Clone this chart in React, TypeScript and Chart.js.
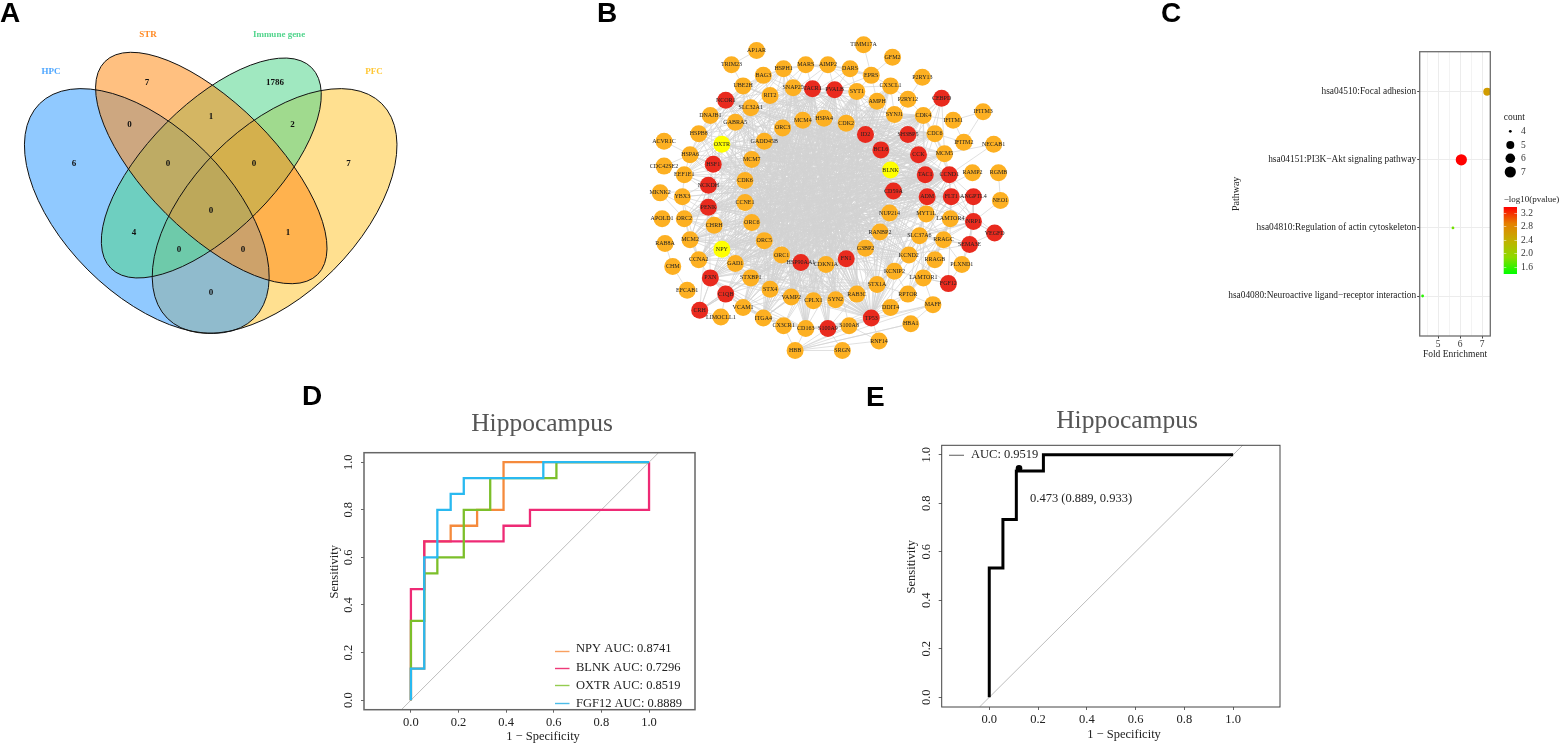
import React, { useEffect, useRef } from "react";
import { Chart, registerables } from "chart.js";
Chart.register(...registerables);

const SERIF = '"Liberation Serif", "Times New Roman", serif';
const LETTER = 'bold 28px "Liberation Sans", Arial, sans-serif';

// ---------- Panel A data ----------
const vennSets = ["HPC", "STR", "Immune gene", "PFC"];
const vennSetX = [51, 148, 279, 374];
const vennSetY = [72, 35, 35, 72];
const vennSetColors = ["#4DA6FF", "#FF8A24", "#52D58D", "#FFC735"];
const vennCounts = [6, 7, 1786, 7, 0, 1, 2, 0, 0, 4, 0, 1, 0, 0, 0];
const vennCountX = [74, 147, 275, 348.5, 129.5, 211, 292.5, 168, 254, 134, 211, 288, 179, 243, 211];
const vennCountY = [164, 83, 83, 164, 125, 117, 125, 164, 164, 233, 211, 233, 250, 250, 293];

// ---------- Panel B data ----------
const nodeNames = [
  "AP1AR","TRIM23","BAG3","HSPH1","UBE2H","SNAP25","RIT2","NCOR1","SLC32A1","DNAJB1",
  "GABRA5","ORC3","HSPB8","GADD45B","OXTR","ACVR1C","HSPA6","MCM7","HSF1","CDC42SE2",
  "EEF1E1","CDK6","NCKDH","MKNK2","YBX3","PENK","CCNE1","APOLD1","ORC2","CHRH",
  "ORC6","RAB8A","MCM2","ORC5","NPY","CCNA2","ORC1","HSP90AA1","CDKN1A","GAD1",
  "CHM","PXN","STXBP1","STX4","VAMP2","CPLX1","SYN2","EFCAB1","C1QB","VCAM1",
  "ITGA4","LIMOCLL1","CRH","CX3CR1","CD163","S100A9","HBB","SRGN","CD59A","ADM",
  "FLT1","ANGPTL4","NEO1","NUP214","MYT1L","LAMTOR4","NRP1","VEGFD","RANBP2","SLC37A6",
  "RRAGC","SEMA3E","G3BP2","KCND2","RRAGB","PLXND1","FN1","KCNIP2","LAMTOR1","FGF12",
  "STX1A","RAB3C","RPTOR","MAFF","DDIT4","TP53","HBA1","S100A8","RNF14","TIMM17A",
  "GFM2","MARS","AIMP2","DARS","EPRS","P2RY13","CX3CL1","TACR1","PVALB","SYT1",
  "AMPH","P2RY12","CEBPD","IFITM3","MCM4","HSPA4","CDK2","SYNJ1","CDK4","IFITM1",
  "ID2","SH3BP5","CDC6","BCL6","IFITM2","NECAB1","CCK","MCM5","BLNK","TAC1",
  "CCND1","RAMP2","RGMB",
];
const nodeX = [
  754,728,761,782,740,792,768,722,748,706,
  732,781,694,762,718,658,685,749,709,658,
  679,742,704,654,677,704,742,656,679,710,
  749,659,685,762,718,694,780,800,826,732,
  667,706,748,768,790,813,836,682,722,740,
  761,717,695,782,805,828,794,843,896,931,
  956,979,1007,892,930,955,979,1001,882,923,
  948,975,867,912,939,967,847,897,927,953,
  879,858,911,937,893,873,914,850,881,865,
  895,805,828,851,873,926,893,812,835,858,
  879,911,946,989,802,824,847,897,927,958,
  867,911,939,883,969,1000,922,949,893,929,
  954,978,1005,
];
const nodeY = [
  44,59,70,63,81,83,91,96,104,112,
  119,125,131,139,142,139,153,158,163,165,
  174,180,185,193,197,208,203,220,220,227,
  224,246,242,243,252,263,258,266,268,267,
  270,282,282,294,302,306,305,295,299,313,
  324,323,316,332,335,335,358,358,191,197,
  197,197,201,214,215,220,223,235,234,238,
  242,247,251,258,263,268,262,275,282,288,
  289,299,299,310,313,324,330,332,348,38,
  51,59,59,63,70,72,81,84,85,87,
  97,95,94,108,117,115,120,111,112,117,
  132,132,131,148,140,142,153,152,169,174,
  174,172,172,
];
const redNodes = ["NCOR1","HSF1","NCKDH","PENK","HSP90AA1","PXN","C1QB","CRH","S100A9","CD59A","ADM","FLT1","ANGPTL4","NRP1","VEGFD","SEMA3E","FN1","FGF12","TP53","TACR1","PVALB","CEBPD","ID2","SH3BP5","BCL6","CCK","TAC1","CCND1"];
const yellowNodes = ["OXTR","NPY","BLNK"];
const edgeLists: [string, string][] = [
  ["AP1AR","TRIM23"],["TRIM23","UBE2H"],
  ["HSPH1","BAG3 UBE2H HSPA4 HSPA6 DNAJB1 HSPB8 HSF1 EEF1E1 HSP90AA1 MARS AIMP2 CDK2 TP53 ORC3"],
  ["BAG3","UBE2H HSPA4 HSPA6 DNAJB1 HSPB8 HSF1 RIT2 SNAP25"],
  ["UBE2H","HSPA6 DNAJB1 HSPB8 HSPA4 TP53 EEF1E1 MCM7 CDK2 CCND1 SLC32A1 CDK6"],
  ["DNAJB1","HSPA6 HSPB8 HSPA4 HSF1 GABRA5 TP53 HSP90AA1 SLC32A1"],
  ["HSPA6","HSPB8 ACVR1C CDC42SE2 EEF1E1 HSF1 HSPA4 CDK6 MCM7 SNAP25"],
  ["HSPB8","HSF1 HSPA4 GABRA5 TP53 OXTR BLNK"],
  ["EEF1E1","CDK6 NCKDH HSPA4 AIMP2 DARS MARS YBX3 CDC6"],
  ["MARS","AIMP2 DARS EPRS TACR1 SNAP25"],["AIMP2","DARS EPRS PVALB TACR1 SYT1"],["DARS","EPRS SYT1 PVALB"],
  ["EPRS","TIMM17A GFM2 SYT1 AMPH CX3CL1 PVALB"],
  ["P2RY13","P2RY12"],["P2RY12","CX3CL1 CX3CR1 SYNJ1 CDK4"],
  ["CX3CL1","CX3CR1 AMPH SYNJ1 VCAM1 ITGA4 CDK2 FN1 TACR1 HSP90AA1 CDKN1A CPLX1 STX4 PENK NPY GAD1"],
  ["IFITM3","IFITM1 IFITM2"],["IFITM1","IFITM2 CDK4"],["IFITM2","CDC6"],["NECAB1","MCM5 CCND1"],
  ["CEBPD","MCM5 CDK4 CDC6 TP53 BCL6"],
  ["MKNK2","ORC2 CCND1 HSP90AA1"],["YBX3","ORC2 CCNA2 TP53 CCND1 HSPA4"],
  ["CHM","RAB8A EFCAB1"],["CRH","LIMOCLL1 C1QB CCK NPY TAC1"],["C1QB","PXN VCAM1 ITGA4 CD163 FN1 LIMOCLL1"],
  ["RGMB","NEO1"],["NEO1","NRP1"],["VEGFD","NRP1 SEMA3E FLT1 ADM"],
  ["RAMP2","ADM"],["HBA1","HBB"],
  ["PLXND1","SEMA3E NRP1 RRAGC"],["ANGPTL4","FLT1 NRP1 ADM SEMA3E TP53 CCND1"],["SEMA3E","NRP1 KCND2 SLC37A6 RANBP2 NUP214"],
  ["LAMTOR1","LAMTOR4 RRAGB RRAGC RPTOR SLC37A6 MAFF FGF12 CDK4 DDIT4"],["LAMTOR4","RRAGB RRAGC RPTOR SLC37A6 CCND1 FLT1 NRP1"],
  ["RRAGC","RRAGB RPTOR SLC37A6 KCND2 MYT1L"],["RRAGB","RPTOR SLC37A6"],["RPTOR","DDIT4 SLC37A6 KCNIP2 STX1A"],["MAFF","HBA1 RPTOR"],
  ["FGF12","KCND2 KCNIP2 PLXND1"],["KCND2","KCNIP2 SNAP25 SLC37A6 MYT1L STX1A ORC5 ORC6 CCNE1 MCM7 GADD45B MCM4 HSPA4 CDK2 HSF1 OXTR GABRA5 PENK"],["S100A8","S100A9 CD163 HBB RNF14 MAFF"],["S100A9","CD163 HBB SRGN RAB3C CX3CR1 DDIT4 RPTOR RIT2 ORC3 GADD45B HSPA4 MCM4 CDK2"],["HBB","CD163 CX3CR1 SRGN TP53 HBA1 MAFF RNF14"],
  ["ITGA4","VCAM1 PXN CX3CR1 CD163 STX4 FN1 VAMP2 RIT2 ORC3 MCM4 HSPA4 CDK2 SYNJ1 CDK4"],["VCAM1","STX4 CX3CR1 PXN STXBP1 CD163 VAMP2 HSPA4 CDK2 MCM4 ORC3 SH3BP5 CDK4 BCL6"],
  ["TP53","CDKN1A CCND1 CCNE1 CCNA2 CDK2 CDK4 CDK6 BCL6 HSF1 MCM4 MCM7 MCM2 MCM5 FN1 NCOR1 PXN HSPA4 RAB3C STX1A KCNIP2 DDIT4 S100A8 S100A9 RNF14 CD163 G3BP2 RANBP2 NUP214 ORC1 ORC5 ORC6 ADM FLT1 TAC1 CCK PENK NPY SNAP25 GADD45B MAFF HSP90AA1 CDC6 ORC2 ORC3 CD59A SYN2 CPLX1"],
  ["HSP90AA1","HSPA4 HSPA6 HSPB8 DNAJB1 HSF1 CDK4 CDK2 CDK6 CDKN1A FN1 BCL6 NCOR1 TACR1 CCND1 FLT1 NUP214 RANBP2 MCM7 EEF1E1 STX4 VAMP2 TAC1 SYT1 GABRA5 PXN KCND2"],
  ["FN1","PXN ITGA4 VCAM1 NRP1 FLT1 ANGPTL4 CD163 CCND1 BCL6 TACR1 PVALB SYT1 ORC3 HSF1 SNAP25 NCOR1 CD59A CCK MCM7 HSPB8 ADM RIT2 MCM4 HSPA4 AMPH GADD45B"],
  ["SNAP25","SYT1 STX1A STX4 STXBP1 VAMP2 CPLX1 SYN2 SYNJ1 AMPH RAB3C RIT2 GAD1 SLC32A1 PVALB GABRA5 NPY CCK TAC1 TACR1 PENK KCNIP2 OXTR BLNK CHRH MYT1L ORC5 ORC6 NCKDH ITGA4 CD163 S100A9 S100A8"],
  ["SYT1","STX1A STX4 STXBP1 VAMP2 CPLX1 SYN2 SYNJ1 AMPH RAB3C RIT2 GAD1 SLC32A1 PVALB KCNIP2 CCK NPY MYT1L ITGA4 VCAM1 CD163 PXN C1QB"],
  ["STX1A","STXBP1 VAMP2 CPLX1 SYN2 STX4 RAB3C AMPH GAD1 SLC32A1 RIT2 GABRA5 KCND2 MCM7 ORC3 MCM4 HSPA4"],
  ["STXBP1","VAMP2 CPLX1 SYN2 STX4 RAB3C GAD1 SLC32A1 KCND2 AMPH MCM4 HSPA4 TAC1 CD59A BLNK"],
  ["VAMP2","CPLX1 SYN2 STX4 RAB3C SYNJ1 AMPH HSPA4 MCM4 ORC3 ID2 TACR1 PVALB"],["SYN2","CPLX1 RAB3C SYNJ1 GAD1 PVALB RIT2 HSPA4 MCM4 ORC3 TACR1"],
  ["GAD1","SLC32A1 GABRA5 PVALB NPY CCK TAC1 PENK KCNIP2 CHRH ORC5 STX4 RIT2 SYNJ1 AMPH HSPA4 CD59A BLNK ID2 ADM MYT1L CCND1 TACR1"],
  ["PVALB","SLC32A1 GABRA5 NPY CCK TAC1 TACR1 PENK OXTR KCNIP2 KCND2 CHRH BCL6 CCND1 BLNK CPLX1 STX4 ITGA4 PXN C1QB CD163 S100A9 RAB3C ORC5 ORC1"],
  ["SLC32A1","GABRA5 NPY CCK TAC1 PENK KCNIP2 OXTR RAB3C CD163 STX4 CD59A FLT1"],
  ["NPY","CCK TAC1 TACR1 PENK OXTR CRH ADM GABRA5 CDK2 BCL6 ID2 CHRH FLT1 MYT1L KCND2 CCND1 CD59A SYNJ1 SH3BP5 BLNK"],
  ["CCK","TAC1 TACR1 PENK OXTR CHRH GABRA5 CRH RANBP2 ORC6 CCNE1 ORC5 MCM7 GADD45B CDK6"],
  ["TAC1","TACR1 PENK OXTR CHRH CRH NCOR1 ORC3 MCM2 RAB3C STX4 CCNE1 CDK6 MCM7 ORC1 ORC5 ORC6 GAD1 STXBP1 PXN"],
  ["TACR1","PENK OXTR BLNK CHRH CCNA2 ORC1 ORC6 FLT1 FN1 CPLX1 VAMP2 STX4 STXBP1 ITGA4 VCAM1 PXN C1QB CD163 RAB3C SYN2"],
  ["PENK","OXTR CHRH ORC2 CRH CDK4 MCM4 KCND2 RANBP2 SLC37A6 MYT1L ADM FLT1 SH3BP5 BLNK"],
  ["OXTR","BLNK CDK6 MCM2 CCND1 CDK4 CD59A ORC1 FN1 SYN2 ADM NRP1 CPLX1 FLT1"],
  ["CCND1","CDK4 CDK6 CDK2 CDKN1A CCNE1 CCNA2 BCL6 MCM2 MCM4 MCM5 MCM7 CDC6 ORC1 ORC2 ORC3 ORC5 ORC6 FLT1 ADM NCOR1 HSF1 NRP1 KCNIP2 PXN ITGA4 RPTOR RANBP2 HSPA4 GADD45B YBX3 EEF1E1 CHRH NPY PENK STXBP1 C1QB"],
  ["CDK2","CDK4 CDK6 CDKN1A CCNE1 CCNA2 MCM2 MCM4 MCM5 MCM7 CDC6 ORC1 ORC2 ORC3 ORC5 ORC6 BCL6 GADD45B NCOR1 HSF1 NUP214 RANBP2 PXN G3BP2 STX4 RAB3C CD163"],
  ["CDK4","CDK6 CDKN1A CCNE1 CCNA2 MCM2 MCM4 MCM5 MCM7 CDC6 ORC1 ORC2 ORC3 ORC5 ORC6 GADD45B HSPA4 SYNJ1 MYT1L NCOR1 CX3CR1 ID2 SH3BP5 PXN FN1 STXBP1"],
  ["CDK6","CDKN1A CCNE1 CCNA2 MCM2 MCM4 MCM7 CDC6 ORC1 ORC2 ORC5 ORC6 GADD45B ID2 SH3BP5 BLNK CD59A NUP214 RANBP2 G3BP2 BCL6 MCM5 ADM SLC37A6"],
  ["CDKN1A","CCNE1 CCNA2 MCM2 MCM4 MCM5 MCM7 GADD45B BCL6 HSF1 NCOR1 ORC3 ID2 HSPA4 SH3BP5 CEBPD BLNK AMPH"],
  ["CCNE1","CCNA2 MCM2 MCM4 MCM5 MCM7 CDC6 ORC1 ORC2 ORC3 ORC5 ORC6 HSPH1 NCKDH BLNK CD59A NUP214 G3BP2 RANBP2 BCL6 ID2 FLT1 ADM SLC37A6 MYT1L"],
  ["CCNA2","MCM2 MCM4 MCM5 MCM7 CDC6 ORC1 ORC2 ORC3 ORC5 ORC6 BLNK"],
  ["MCM2","MCM4 MCM5 MCM7 CDC6 ORC1 ORC2 ORC3 ORC5 ORC6 BLNK"],
  ["MCM4","MCM5 MCM7 CDC6 ORC1 ORC2 ORC3 ORC5 ORC6 HSPA4 FN1 G3BP2 RANBP2 NUP214 CPLX1 STX4 KCNIP2 RAB3C CD163"],
  ["MCM5","MCM7 CDC6 ORC1 ORC2 ORC3 ORC5 ORC6"],
  ["MCM7","CDC6 ORC1 ORC2 ORC3 ORC5 ORC6 BLNK CD59A NUP214 RANBP2 G3BP2 BCL6 ID2 SH3BP5 KCNIP2 RAB3C CD163 SLC37A6 MYT1L"],
  ["CDC6","ORC1 ORC2 ORC3 ORC5 ORC6 NCOR1 SH3BP5"],
  ["ORC1","ORC2 ORC3 ORC5 ORC6 CD59A BLNK BCL6 ID2 HSPA4 SYNJ1 AMPH"],["ORC2","ORC3 ORC5 ORC6"],["ORC3","ORC5 ORC6 FN1 CDKN1A G3BP2 RANBP2 NUP214 VAMP2 CPLX1 SYN2 CD163 KCNIP2 RAB3C"],["ORC5","ORC6 BLNK CD59A NUP214 BCL6 ID2 HSPA4 SYT1 AMPH SNAP25 SLC37A6 MYT1L"],
  ["ORC6","BLNK CD59A NUP214 RANBP2 BCL6 ID2 SH3BP5 HSPA4 CDK2 SLC37A6 MYT1L"],
  ["BCL6","NCOR1 HSF1 ID2 SH3BP5 PXN BLNK CD59A FLT1 PENK GADD45B STX4 CPLX1"],
  ["NUP214","RANBP2 G3BP2 NCOR1 HSPA4 MCM7 ORC5 SLC37A6 CHRH GADD45B"],
  ["RANBP2","G3BP2 NCOR1 ORC1 HSPA6 GADD45B"],["G3BP2","HSPA4 EEF1E1 YBX3 NCOR1 MCM2 GADD45B"],
  ["FLT1","ADM NRP1 PXN MYT1L CD59A SLC37A6 FGF12 KCNIP2 ORC6 NCKDH HSF1 GADD45B GABRA5 SLC32A1"],["ADM","NRP1 SLC37A6 TACR1 CD59A ORC6 CHRH HSP90AA1 NCKDH HSF1 GABRA5"],["NRP1","PXN KCND2 RRAGC SLC37A6 MYT1L"],
  ["PXN","STX4 CD163 CCNA2 ITGA4 NCKDH ID2 CX3CR1 SYNJ1 SH3BP5 BLNK"],
  ["NCKDH","HSF1 CDK6 ORC2 MCM2 MYT1L SLC37A6"],["HSF1","CDK6 GADD45B NCOR1 MCM7 CCK SLC37A6 MYT1L KCNIP2"],["NCOR1","ORC3 SNAP25 SLC32A1 GADD45B"],
  ["RAB3C","STX4 CPLX1 RIT2 SLC32A1 GABRA5 GADD45B HSPA4"],["KCNIP2","RAB3C DDIT4 ORC6 HSPA4 GADD45B GABRA5 RIT2 MYT1L"],
  ["CD59A","GAD1 STXBP1 ORC6 GADD45B HSPA4 RIT2 GABRA5 MCM4 CPLX1"],
  ["BLNK","CDKN1A HSP90AA1 HSF1 NCOR1 PXN ITGA4 CRH STX4 GADD45B"],
  ["ID2","HSP90AA1 HSF1 NCOR1 GAD1 PENK STX4 ITGA4 VAMP2 CPLX1 CCNE1"],
  ["HSPA4","CDKN1A G3BP2 NUP214 CPLX1 SYN2 STX4 ORC1 ORC5"],
  ["AMPH","CPLX1 VAMP2 STX4 CDKN1A GAD1 NPY CCNA2"],
  ["SYNJ1","STX4 VAMP2 STXBP1 CHRH C1QB CCNA2"],
  ["SH3BP5","GADD45B ORC6 ORC5 MCM7 NCKDH"],
  ["SLC37A6","ORC3 CHRH GADD45B"],
  ["MYT1L","HSPA4 CHRH GADD45B MCM2"],
  ["CD163","RIT2 ORC3 GADD45B HSPA4"],
  ["STX4","RIT2 SLC32A1 GABRA5 HSPA4 MCM4 CDK2"],
];

// ---------- Panel C data ----------
const pathways = ["hsa04080:Neuroactive ligand\u2212receptor interaction","hsa04810:Regulation of actin cytoskeleton","hsa04151:PI3K\u2212Akt signaling pathway","hsa04510:Focal adhesion"];
const foldEnrichment = [4.3, 5.68, 6.06, 7.24];
const pathwayCount = [4, 4, 7, 5];
const pathwayLogP = [1.54, 1.8, 3.38, 2.6];
const countLevels = [4, 5, 6, 7];
const countRadius = [1.4, 4, 4.8, 5.6];
const logPTicks = [3.2, 2.8, 2.4, 2.0, 1.6];
const foldGrid = [4.5, 5, 5.5, 6, 6.5, 7];
const gradientStops = ["#00FF00", "#8DDA00", "#C2B000", "#E58000", "#FF0000"];

// ---------- Panels D / E data ----------
const rocTicks = [0, 0.2, 0.4, 0.6, 0.8, 1];
const npyFpr = [0, 0, 0.056, 0.056, 0.167, 0.167, 0.278, 0.278, 0.389, 0.389, 1];
const npyTpr = [0, 0.133, 0.133, 0.667, 0.667, 0.733, 0.733, 0.8, 0.8, 1, 1];
const blnkFpr = [0, 0, 0.056, 0.056, 0.389, 0.389, 0.5, 0.5, 1, 1];
const blnkTpr = [0, 0.467, 0.467, 0.667, 0.667, 0.733, 0.733, 0.8, 0.8, 1];
const oxtrFpr = [0, 0, 0.056, 0.056, 0.111, 0.111, 0.222, 0.222, 0.333, 0.333, 0.611, 0.611, 1];
const oxtrTpr = [0, 0.333, 0.333, 0.533, 0.533, 0.6, 0.6, 0.8, 0.8, 0.933, 0.933, 1, 1];
const fgfFpr = [0, 0, 0.056, 0.056, 0.111, 0.111, 0.167, 0.167, 0.222, 0.222, 0.556, 0.556, 1];
const fgfTpr = [0, 0.133, 0.133, 0.6, 0.6, 0.8, 0.8, 0.867, 0.867, 0.933, 0.933, 1, 1];
const rocLegend = ["NPY AUC: 0.8741", "BLNK AUC: 0.7296", "OXTR AUC: 0.8519", "FGF12 AUC: 0.8889"];
const comboFpr = [0, 0, 0.056, 0.056, 0.111, 0.111, 0.222, 0.222, 1];
const comboTpr = [0, 0.533, 0.533, 0.733, 0.733, 0.933, 0.933, 1, 1];
const bestFpr = [0.122];
const bestTpr = [0.944];

// ---------- helpers ----------
type Box = { x: number; y: number; w: number; h: number };
type Txt = { t: string; x: number; y: number; font: string; color?: string; rot?: number; align?: CanvasTextAlign };
const zip = (xs: number[], ys: number[]) => xs.map((x, i) => ({ x, y: ys[i] }));

const textPlugin = (box: Box, items: Txt[]) => ({
  id: "pageText",
  afterDraw(chart: any) {
    const c = chart.ctx;
    items.forEach((i) => {
      c.save();
      c.translate(i.x - box.x, i.y - box.y);
      if (i.rot) c.rotate(i.rot);
      c.font = i.font;
      c.fillStyle = i.color || "#222";
      c.textAlign = i.align || "left";
      c.textBaseline = "middle";
      c.fillText(i.t, 0, 0);
      c.restore();
    });
  },
});
const framePlugin = (color: string, width: number) => ({
  id: "frame",
  afterDatasetsDraw(chart: any) {
    const { left, top, right, bottom } = chart.chartArea;
    const c = chart.ctx;
    c.save();
    c.strokeStyle = color;
    c.lineWidth = width;
    c.strokeRect(left, top, right - left, bottom - top);
    c.restore();
  },
});
const mixHex = (a: string, b: string, t: number) => {
  const p = (h: string, i: number) => parseInt(h.slice(i, i + 2), 16);
  const m = (i: number) => Math.round(p(a, i) + (p(b, i) - p(a, i)) * t);
  return `rgb(${m(1)},${m(3)},${m(5)})`;
};
const LOG_MIN = 1.4, LOG_MAX = 3.385;
const logPColor = (v: number) => {
  const t = Math.min(1, Math.max(0, (v - LOG_MIN) / (LOG_MAX - LOG_MIN))) * (gradientStops.length - 1);
  const i = Math.min(gradientStops.length - 2, Math.floor(t));
  return mixHex(gradientStops[i], gradientStops[i + 1], t - i);
};

// ---------- panel builders ----------
function buildVenn(cv: HTMLCanvasElement, box: Box) {
  const ellipses = [
    { cx: 274.6, cy: 211, a: 151.7, b: 83.3, rot: -45, col: "rgba(255,199,53,0.55)" },
    { cx: 146.8, cy: 211, a: 151.7, b: 83.3, rot: 45, col: "rgba(52,157,255,0.55)" },
    { cx: 211.3, cy: 168, a: 141.9, b: 63.7, rot: -45, col: "rgba(82,213,141,0.55)" },
    { cx: 211.3, cy: 168, a: 150.5, b: 64.3, rot: 45, col: "rgba(255,141,24,0.55)" },
  ];
  const venn = {
    id: "vennShapes",
    beforeDatasetsDraw(chart: any) {
      const c = chart.ctx, sx = chart.scales.x, sy = chart.scales.y;
      c.save();
      ellipses.forEach((e) => {
        c.beginPath();
        c.ellipse(sx.getPixelForValue(e.cx), sy.getPixelForValue(e.cy), e.a, e.b, (e.rot * Math.PI) / 180, 0, Math.PI * 2);
        c.fillStyle = e.col;
        c.fill();
      });
      ellipses.forEach((e) => {
        c.beginPath();
        c.ellipse(sx.getPixelForValue(e.cx), sy.getPixelForValue(e.cy), e.a, e.b, (e.rot * Math.PI) / 180, 0, Math.PI * 2);
        c.strokeStyle = "#111";
        c.lineWidth = 1;
        c.stroke();
      });
      c.restore();
    },
    afterDatasetsDraw(chart: any) {
      const c = chart.ctx, sx = chart.scales.x, sy = chart.scales.y;
      c.save();
      c.textAlign = "center";
      c.textBaseline = "middle";
      c.font = `bold 9px ${SERIF}`;
      c.fillStyle = "#111";
      vennCounts.forEach((n, i) => c.fillText(String(n), sx.getPixelForValue(vennCountX[i]), sy.getPixelForValue(vennCountY[i])));
      vennSets.forEach((n, i) => {
        c.fillStyle = vennSetColors[i];
        c.fillText(n, sx.getPixelForValue(vennSetX[i]), sy.getPixelForValue(vennSetY[i]));
      });
      c.restore();
    },
  };
  return new Chart(cv, {
    type: "scatter",
    data: { datasets: [{ label: "Venn regions", data: zip(vennCountX, vennCountY), pointRadius: 0 }] },
    options: {
      responsive: false,
      animation: false,
      layout: { padding: 0 },
      plugins: { legend: { display: false }, tooltip: { enabled: false } },
      scales: {
        x: { type: "linear", display: false, min: box.x, max: box.x + box.w },
        y: { type: "linear", display: false, min: box.y, max: box.y + box.h, reverse: true },
      },
    },
    plugins: [venn, textPlugin(box, [{ t: "A", x: 0, y: 14, font: LETTER, color: "#000" }])],
  } as any);
}

function buildNetwork(cv: HTMLCanvasElement, box: Box) {
  const at = new Map(nodeNames.map((n, i) => [n, i]));
  const edgePts: any[] = [];
  edgeLists.forEach(([hub, list]) => {
    const a = at.get(hub);
    list.split(" ").forEach((n) => {
      const b = at.get(n);
      if (a === undefined || b === undefined) return;
      edgePts.push({ x: nodeX[a], y: nodeY[a] }, { x: nodeX[b], y: nodeY[b] }, { x: null, y: null });
    });
  });
  const nodeColor = (n: string) => (yellowNodes.includes(n) ? "#FFFF00" : redNodes.includes(n) ? "#E92A1E" : "#FDB022");
  const labels = {
    id: "nodeLabels",
    afterDatasetsDraw(chart: any) {
      const c = chart.ctx, sx = chart.scales.x, sy = chart.scales.y;
      c.save();
      c.font = `6px ${SERIF}`;
      c.fillStyle = "#222";
      c.textAlign = "center";
      c.textBaseline = "middle";
      nodeNames.forEach((n, i) => c.fillText(n, sx.getPixelForValue(nodeX[i]), sy.getPixelForValue(nodeY[i])));
      c.restore();
    },
  };
  return new Chart(cv, {
    type: "scatter",
    data: {
      datasets: [
        { label: "genes", data: zip(nodeX, nodeY), pointRadius: 8.5, pointBorderWidth: 0, pointBackgroundColor: nodeNames.map(nodeColor), order: 1 },
        { label: "interactions", data: edgePts, showLine: true, pointRadius: 0, borderColor: "#d2d2d2", borderWidth: 0.7, spanGaps: false, order: 2 },
      ],
    },
    options: {
      responsive: false,
      animation: false,
      layout: { padding: 0 },
      plugins: { legend: { display: false }, tooltip: { enabled: false } },
      scales: {
        x: { type: "linear", display: false, min: box.x, max: box.x + box.w },
        y: { type: "linear", display: false, min: box.y, max: box.y + box.h, reverse: true },
      },
    },
    plugins: [labels, textPlugin(box, [{ t: "B", x: 597, y: 14, font: LETTER, color: "#000" }])],
  } as any);
}

function buildDot(cv: HTMLCanvasElement, box: Box) {
  const L = 1419.7, R = 1490.3, T = 51.7, B = 336;
  const yW = 200, xH = 24;
  const radiusOf = (n: number) => countRadius[countLevels.indexOf(n)];
  const legendDraw = {
    id: "dotLegend",
    afterDraw(chart: any) {
      const c = chart.ctx;
      c.save();
      const ox = box.x, oy = box.y;
      c.font = `9.5px ${SERIF}`;
      c.fillStyle = "#222";
      c.textBaseline = "middle";
      c.fillText("count", 1503.7 - ox, 117.7 - oy);
      const lvlY = [131.3, 145, 158.3, 172];
      countLevels.forEach((n, i) => {
        c.beginPath();
        c.arc(1510.3 - ox, lvlY[i] - oy, radiusOf(n), 0, Math.PI * 2);
        c.fillStyle = "#000";
        c.fill();
        c.fillStyle = "#333";
        c.fillText(String(n), 1521 - ox, lvlY[i] - oy);
      });
      c.fillStyle = "#222";
      c.font = `9px ${SERIF}`;
      c.fillText("\u2212log10(pvalue)", 1503.7 - ox, 199.3 - oy);
      c.font = `9.5px ${SERIF}`;
      const bx = 1503.7 - ox, bt = 207 - oy, bb = 274 - oy, bw = 13.3;
      const g = c.createLinearGradient(0, bb, 0, bt);
      gradientStops.forEach((s, i) => g.addColorStop(i / (gradientStops.length - 1), s));
      c.fillStyle = g;
      c.fillRect(bx, bt, bw, bb - bt);
      logPTicks.forEach((v) => {
        const y = bb - ((v - LOG_MIN) / (LOG_MAX - LOG_MIN)) * (bb - bt);
        c.fillStyle = "#fff";
        c.fillRect(bx, y - 0.25, 2.6, 0.5);
        c.fillRect(bx + bw - 2.6, y - 0.25, 2.6, 0.5);
        c.fillStyle = "#333";
        c.fillText(v.toFixed(1), 1521 - ox, y);
      });
      c.restore();
    },
  };
  return new Chart(cv, {
    type: "bubble",
    data: {
      datasets: [
        {
          label: "pathways",
          data: foldEnrichment.map((x, i) => ({ x, y: i + 1, r: radiusOf(pathwayCount[i]) })),
          backgroundColor: pathwayLogP.map(logPColor),
          borderWidth: 0,
        },
      ],
    },
    options: {
      responsive: false,
      animation: false,
      layout: { padding: { left: L - box.x - yW, top: T - box.y, right: box.x + box.w - R, bottom: box.y + box.h - B - xH } },
      plugins: { legend: { display: false }, tooltip: { enabled: false } },
      scales: {
        x: {
          type: "linear",
          min: 4.168,
          max: 7.377,
          afterBuildTicks: (s: any) => { s.ticks = foldGrid.map((value) => ({ value })); },
          afterFit: (s: any) => { s.height = xH; },
          border: { display: false },
          grid: {
            color: (ctx: any) => (ctx.tick && Number.isInteger(ctx.tick.value) ? "#ececec" : "#f3f3f3"),
            tickLength: 2.5,
            tickColor: (ctx: any) => (ctx.tick && Number.isInteger(ctx.tick.value) ? "#444" : "rgba(0,0,0,0)"),
          },
          ticks: {
            autoSkip: false,
            maxRotation: 0,
            padding: 0,
            color: "#333",
            font: { family: SERIF, size: 9.5 },
            callback: (v: any) => (Number.isInteger(v) ? String(v) : ""),
          },
          title: { display: true, text: "Fold Enrichment", color: "#222", font: { family: SERIF, size: 9.5 }, padding: 0 },
        },
        y: {
          type: "linear",
          min: 0.413,
          max: 4.587,
          afterBuildTicks: (s: any) => { s.ticks = pathways.map((_, i) => ({ value: i + 1 })); },
          afterFit: (s: any) => { s.width = yW; },
          border: { display: false },
          grid: { color: "#ececec", tickLength: 2.5, tickColor: "#444" },
          ticks: {
            autoSkip: false,
            padding: 1,
            color: "#222",
            font: { family: SERIF, size: 9.35 },
            callback: (v: any) => pathways[v - 1],
          },
          title: { display: true, text: "Pathway", color: "#222", font: { family: SERIF, size: 10 }, padding: { top: 11, bottom: 0 } },
        },
      },
    },
    plugins: [framePlugin("#6e6e6e", 1.3), legendDraw, textPlugin(box, [{ t: "C", x: 1161, y: 14, font: LETTER, color: "#000" }])],
  } as any);
}

function rocOptions(box: Box, L: number, R: number, T: number, B: number, xr: [number, number], yr: [number, number]) {
  const yW = 3, xH = 20;
  return {
    responsive: false,
    animation: false,
    layout: { padding: { left: L - box.x - yW, top: T - box.y, right: box.x + box.w - R, bottom: box.y + box.h - B - xH } },
    plugins: { legend: { display: false }, tooltip: { enabled: false } },
    scales: {
      x: {
        type: "linear",
        min: xr[0],
        max: xr[1],
        afterBuildTicks: (s: any) => { s.ticks = rocTicks.map((value) => ({ value })); },
        afterFit: (s: any) => { s.height = xH; },
        border: { display: false },
        grid: { drawOnChartArea: false, tickLength: 3, tickColor: "#666" },
        ticks: { autoSkip: false, maxRotation: 0, padding: 2.5, color: "#222", font: { family: SERIF, size: 12.5 }, callback: (v: any) => Number(v).toFixed(1) },
      },
      y: {
        type: "linear",
        min: yr[0],
        max: yr[1],
        afterBuildTicks: (s: any) => { s.ticks = rocTicks.map((value) => ({ value })); },
        afterFit: (s: any) => { s.width = yW; },
        border: { display: false },
        grid: { drawOnChartArea: false, tickLength: 3, tickColor: "#666" },
        ticks: { display: false },
      },
    },
  };
}
const rotTicks = (xPage: number, box: Box) => ({
  id: "rotTicks",
  afterDraw(chart: any) {
    const c = chart.ctx, s = chart.scales.y;
    c.save();
    c.font = `12.5px ${SERIF}`;
    c.fillStyle = "#222";
    c.textAlign = "center";
    c.textBaseline = "middle";
    rocTicks.forEach((v) => {
      c.save();
      c.translate(xPage - box.x, s.getPixelForValue(v));
      c.rotate(-Math.PI / 2);
      c.fillText(v.toFixed(1), 0, 0);
      c.restore();
    });
    c.restore();
  },
});
const lineDs = (label: string, xs: number[], ys: number[], color: string, width: number, order: number) => ({
  type: "line",
  label,
  data: zip(xs, ys),
  borderColor: color,
  borderWidth: width,
  pointRadius: 0,
  tension: 0,
  fill: false,
  order,
  borderJoinStyle: "miter",
});

const DIAG = [-0.04, 1.04];
const rocColors = ["#F58A3C", "#EE2A75", "#7CBF2A", "#29B9F0"];
const rocLegendColors = ["#F9A060", "#EE3A78", "#94CC50", "#4CBCE8"];

function buildRocD(cv: HTMLCanvasElement, box: Box) {
  const textY = [649, 667.3, 685.3, 703.3];
  const lineY = [651.5, 668.5, 685.5, 703.5];
  const legend = {
    id: "rocLegend",
    afterDraw(chart: any) {
      const c = chart.ctx;
      c.save();
      rocLegend.forEach((t, i) => {
        c.strokeStyle = rocLegendColors[i];
        c.lineWidth = 1.4;
        c.beginPath();
        c.moveTo(555 - box.x, lineY[i] - box.y);
        c.lineTo(569.5 - box.x, lineY[i] - box.y);
        c.stroke();
        c.font = `12.5px ${SERIF}`;
        c.fillStyle = "#222";
        c.textBaseline = "middle";
        c.fillText(t, 576 - box.x, textY[i] - box.y);
      });
      c.restore();
    },
  };
  return new Chart(cv, {
    type: "scatter",
    data: {
      datasets: [
        lineDs("reference", DIAG, DIAG, "#bdbdbd", 1, 5),
        lineDs("NPY", npyFpr, npyTpr, rocColors[0], 2.3, 4),
        lineDs("BLNK", blnkFpr, blnkTpr, rocColors[1], 2.3, 3),
        lineDs("OXTR", oxtrFpr, oxtrTpr, rocColors[2], 2.3, 2),
        lineDs("FGF12", fgfFpr, fgfTpr, rocColors[3], 2.3, 1),
      ],
    },
    options: rocOptions(box, 364, 695, 452.7, 709.7, [-0.197, 1.193], [-0.04, 1.04]),
    plugins: [
      framePlugin("#666", 1.5),
      rotTicks(349, box),
      legend,
      textPlugin(box, [
        { t: "D", x: 302, y: 397, font: LETTER, color: "#000" },
        { t: "Hippocampus", x: 542, y: 424, font: `25.5px ${SERIF}`, color: "#555", align: "center" },
        { t: "1 \u2212 Specificity", x: 543, y: 736.7, font: `12.5px ${SERIF}`, align: "center" },
        { t: "Sensitivity", x: 335, y: 571.7, font: `12.5px ${SERIF}`, rot: -Math.PI / 2, align: "center" },
      ]),
    ],
  } as any);
}

function buildRocE(cv: HTMLCanvasElement, box: Box) {
  const legend = {
    id: "rocLegendE",
    afterDraw(chart: any) {
      const c = chart.ctx;
      c.save();
      c.strokeStyle = "#777";
      c.lineWidth = 1.2;
      c.beginPath();
      c.moveTo(949 - box.x, 455.3 - box.y);
      c.lineTo(964 - box.x, 455.3 - box.y);
      c.stroke();
      c.restore();
    },
  };
  return new Chart(cv, {
    type: "scatter",
    data: {
      datasets: [
        { type: "scatter", label: "best threshold", data: zip(bestFpr, bestTpr), pointRadius: 3.3, pointBackgroundColor: "#000", pointBorderWidth: 0, order: 1 },
        lineDs("combined", comboFpr, comboTpr, "#000", 3, 2),
        lineDs("reference", DIAG, DIAG, "#bdbdbd", 1, 3),
      ],
    },
    options: rocOptions(box, 941.7, 1280, 445.3, 707, [-0.195, 1.192], [-0.04, 1.039]),
    plugins: [
      framePlugin("#444", 1),
      rotTicks(927, box),
      legend,
      textPlugin(box, [
        { t: "E", x: 866, y: 398, font: LETTER, color: "#000" },
        { t: "Hippocampus", x: 1127, y: 421.7, font: `25.5px ${SERIF}`, color: "#555", align: "center" },
        { t: "1 \u2212 Specificity", x: 1124, y: 735, font: `12.5px ${SERIF}`, align: "center" },
        { t: "Sensitivity", x: 911.7, y: 566.7, font: `12.5px ${SERIF}`, rot: -Math.PI / 2, align: "center" },
        { t: "AUC: 0.9519", x: 971, y: 455, font: `12.5px ${SERIF}` },
        { t: "0.473 (0.889, 0.933)", x: 1030, y: 499, font: `12.5px ${SERIF}` },
      ]),
    ],
  } as any);
}

const boxes: Box[] = [
  { x: 0, y: 0, w: 520, h: 380 },
  { x: 590, y: 0, w: 470, h: 380 },
  { x: 1160, y: 0, w: 400, h: 370 },
  { x: 300, y: 385, w: 420, h: 358 },
  { x: 860, y: 385, w: 430, h: 358 },
];
const builders = [buildVenn, buildNetwork, buildDot, buildRocD, buildRocE];

export default function App() {
  const refs = useRef<(HTMLCanvasElement | null)[]>([]);
  useEffect(() => {
    const charts = builders.map((b, i) => b(refs.current[i] as HTMLCanvasElement, boxes[i]));
    return () => charts.forEach((c) => c.destroy());
  }, []);
  return (
    <div style={{ position: "absolute", left: 0, top: 0, width: 1560, height: 743, overflow: "hidden", background: "#fff" }}>
      {boxes.map((b, i) => (
        <canvas
          key={i}
          ref={(el) => { refs.current[i] = el; }}
          width={b.w}
          height={b.h}
          style={{ position: "absolute", left: b.x, top: b.y, width: b.w, height: b.h }}
        />
      ))}
    </div>
  );
}
